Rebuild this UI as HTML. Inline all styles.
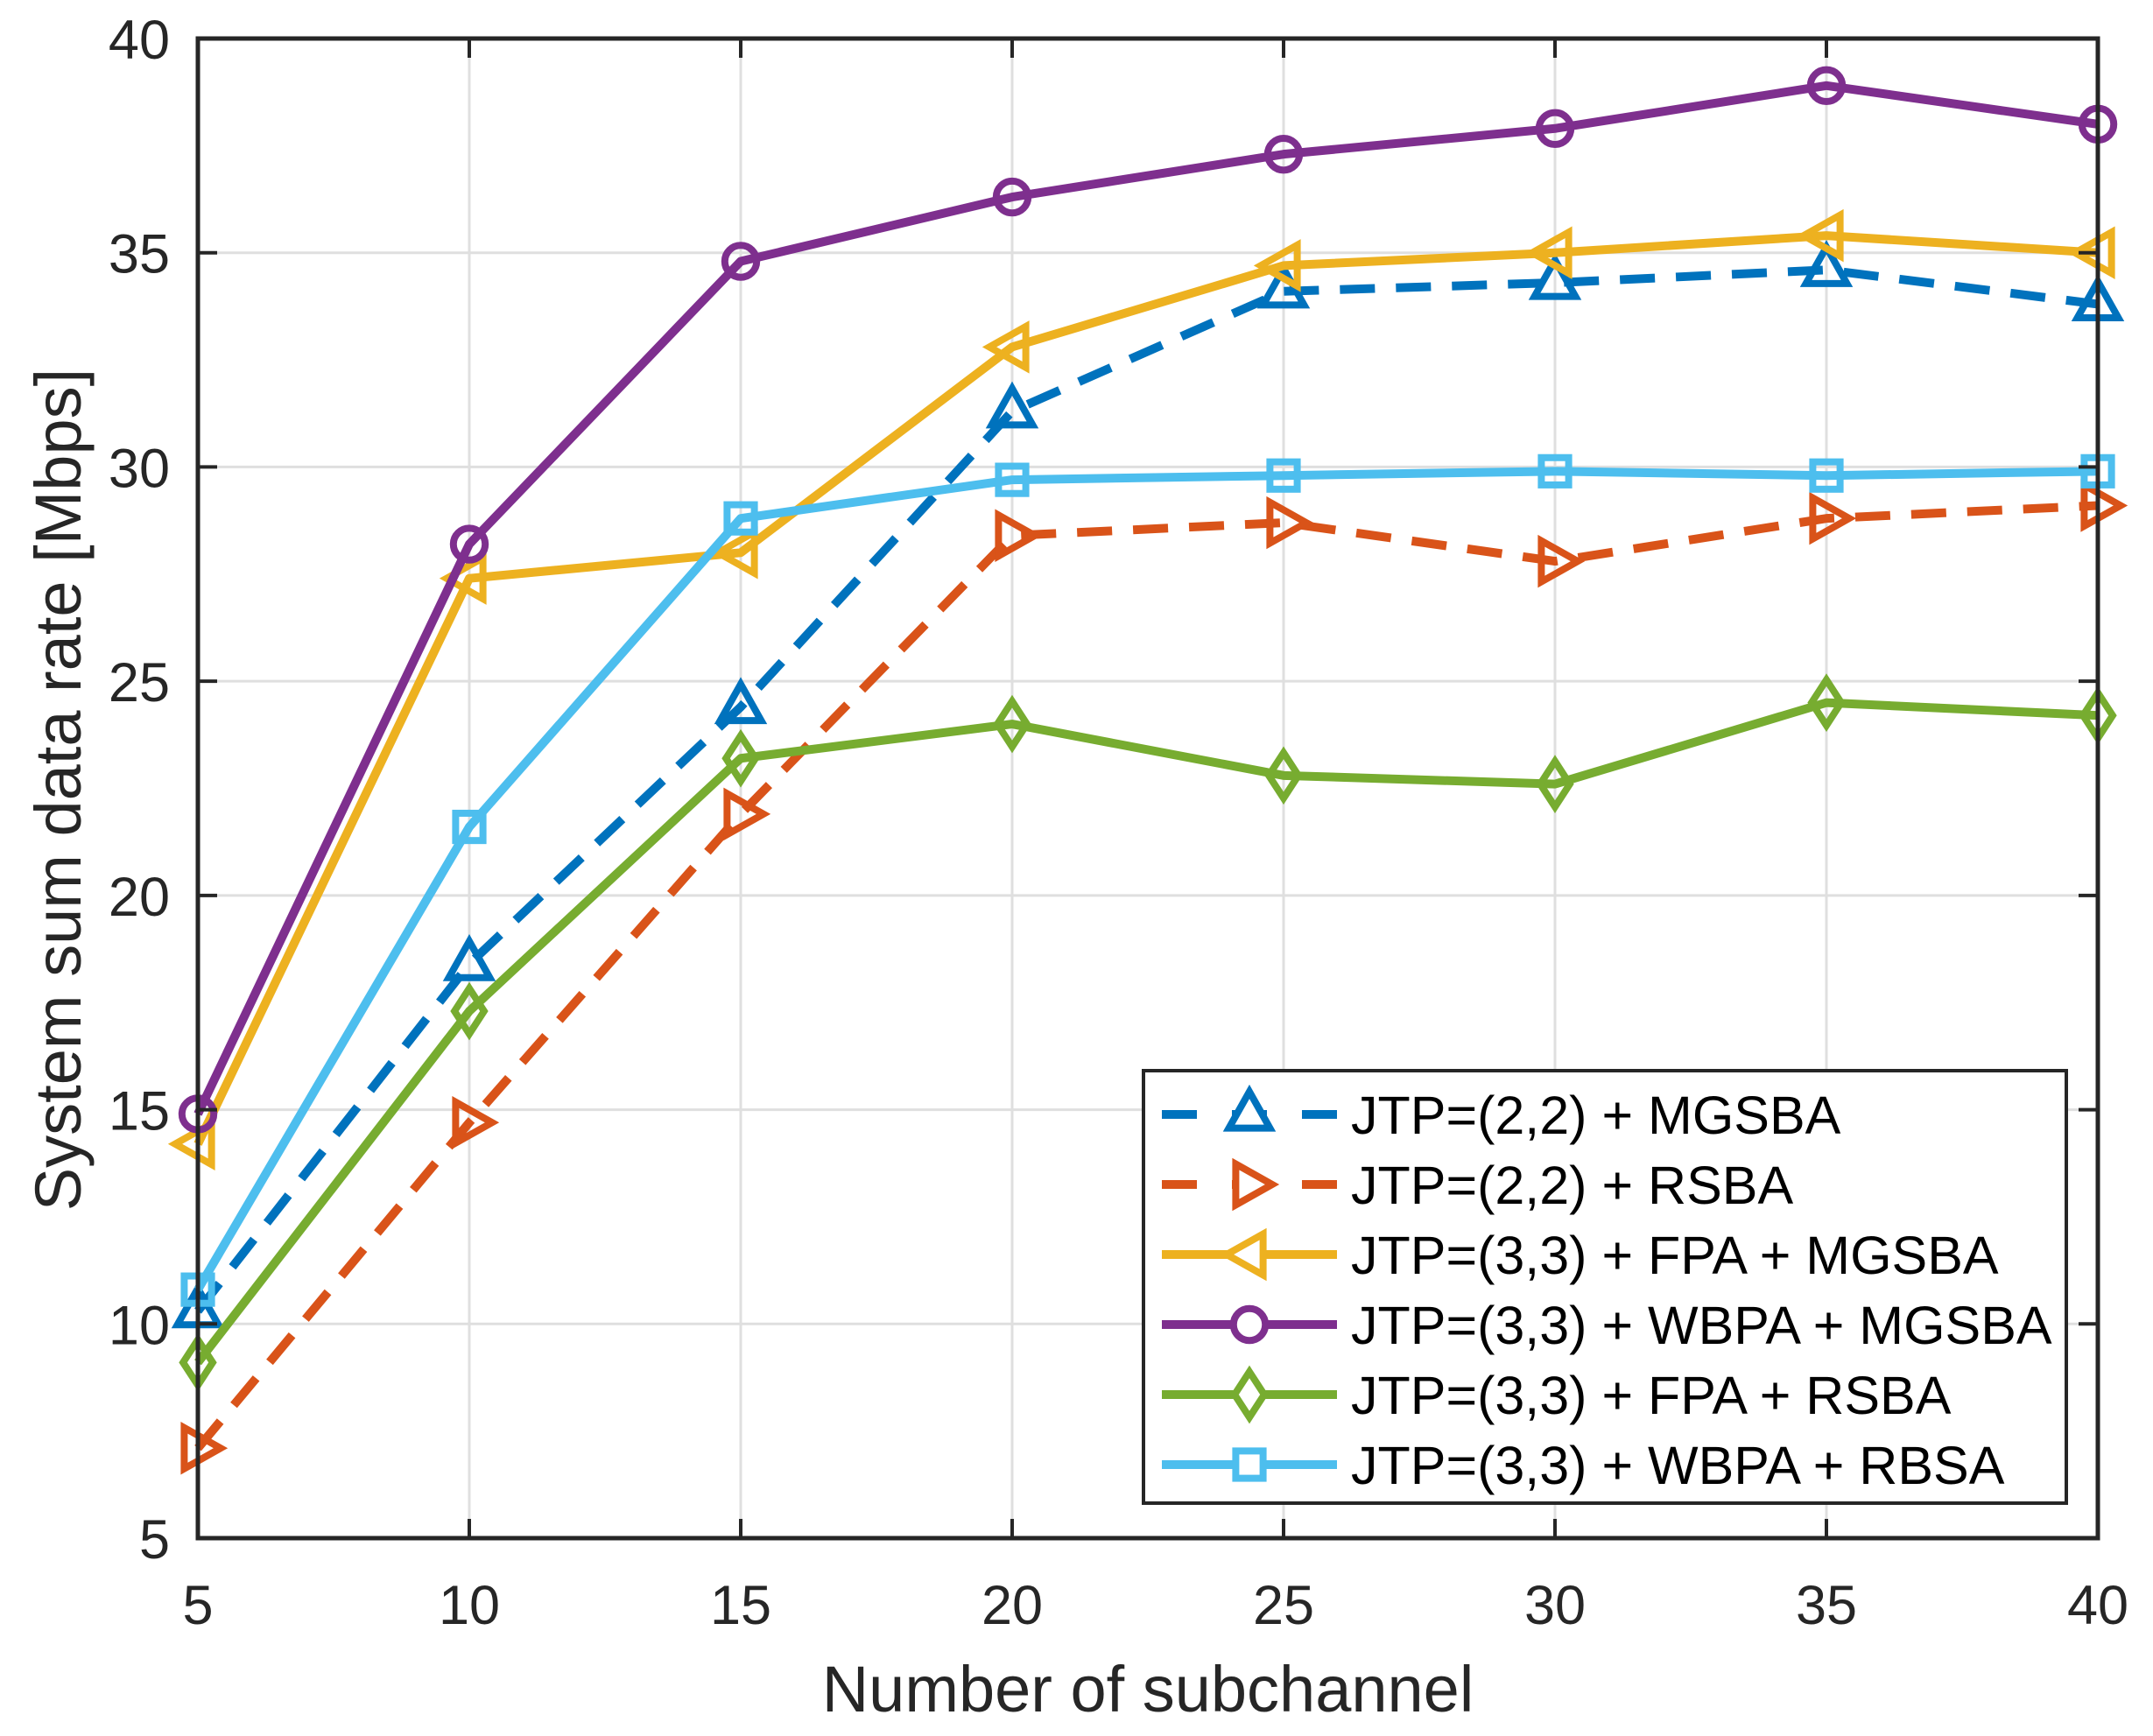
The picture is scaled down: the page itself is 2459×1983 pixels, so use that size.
<!DOCTYPE html>
<html><head><meta charset="utf-8"><style>
html,body{margin:0;padding:0;background:#fff;}
svg{display:block;font-family:"Liberation Sans",sans-serif;}
</style></head><body>
<svg id="chart" width="2459" height="1983" viewBox="0 0 2459 1983" xmlns="http://www.w3.org/2000/svg">
<rect x="0" y="0" width="2459" height="1983" fill="#fff"/>
<g id="grid"></g>
<g id="series"></g>
<g id="axes"></g>
<text x="0" y="0" transform="translate(92,902) rotate(-90)" text-anchor="middle" font-size="74" fill="#262626">System sum data rate [Mbps]</text>
<text x="1311" y="1955" text-anchor="middle" font-size="74" fill="#262626">Number of subchannel</text>
<g id="legend"></g>
</svg>
<script>
const categories = [5,10,15,20,25,30,35,40];
const xTicks = [5,10,15,20,25,30,35,40];
const yTicks = [5,10,15,20,25,30,35,40];
const seriesNames = ["JTP=(2,2) + MGSBA","JTP=(2,2) + RSBA","JTP=(3,3) + FPA + MGSBA","JTP=(3,3) + WBPA + MGSBA","JTP=(3,3) + FPA + RSBA","JTP=(3,3) + WBPA + RBSA"];
const mgsba22 = [10.3,18.4,24.4,31.3,34.1,34.3,34.6,33.8];
const rsba22 = [7.1,14.7,21.9,28.4,28.7,27.8,28.8,29.1];
const fpaMgsba33 = [14.2,27.4,28.0,32.8,34.7,35.0,35.4,35.0];
const wbpaMgsba33 = [14.9,28.2,34.8,36.3,37.3,37.9,38.9,38.0];
const fpaRsba33 = [9.1,17.3,23.2,24.0,22.8,22.6,24.5,24.2];
const wbpaRbsa33 = [10.8,21.6,28.8,29.7,29.8,29.9,29.8,29.9];

const NS="http://www.w3.org/2000/svg";
const L=226,R=2396,T=44,B=1757;
const xs=v=>L+(v-5)/(40-5)*(R-L);
const ys=v=>B-(v-5)/(40-5)*(B-T);
function mk(tag,attrs,parent){const e=document.createElementNS(NS,tag);for(const k in attrs)e.setAttribute(k,attrs[k]);parent.appendChild(e);return e;}
const grid=document.getElementById('grid'),axes=document.getElementById('axes'),ser=document.getElementById('series'),leg=document.getElementById('legend');
xTicks.forEach(v=>{
  const g=mk('line',{x1:xs(v),x2:xs(v),y1:T,y2:B,stroke:'#dfdfdf','stroke-width':3},grid);
  
  
  const t=mk('text',{x:xs(v),y:1855,'text-anchor':'middle','font-size':63,fill:'#262626'},axes);
  t.textContent=v;
  
  
  mk('line',{x1:xs(v),x2:xs(v),y1:B,y2:B-22,stroke:'#262626','stroke-width':4},axes);
  mk('line',{x1:xs(v),x2:xs(v),y1:T,y2:T+22,stroke:'#262626','stroke-width':4},axes);
});
yTicks.forEach(v=>{
  const g=mk('line',{x1:L,x2:R,y1:ys(v),y2:ys(v),stroke:'#dfdfdf','stroke-width':3},grid);
  
  
  const t=mk('text',{x:194,y:ys(v)+23,'text-anchor':'end','font-size':63,fill:'#262626'},axes);
  t.textContent=v;
  
  
  mk('line',{x1:L,x2:L+22,y1:ys(v),y2:ys(v),stroke:'#262626','stroke-width':4},axes);
  mk('line',{x1:R,x2:R-22,y1:ys(v),y2:ys(v),stroke:'#262626','stroke-width':4},axes);
});
const frame=mk('rect',{x:L,y:T,width:R-L,height:B-T,fill:'none',stroke:'#262626','stroke-width':5},axes);



const S=26;
function marker(type,x,y,color,parent){
  const a={fill:'none',stroke:color,'stroke-width':8,'stroke-linejoin':'miter'};
  let e;
  if(type==='up'){a.points=`${x},${y-S} ${x-S*0.9},${y+S*0.6} ${x+S*0.9},${y+S*0.6}`;e=mk('polygon',a,parent);}
  else if(type==='right'){a.points=`${x+S},${y} ${x-S*0.6},${y-S*0.9} ${x-S*0.6},${y+S*0.9}`;e=mk('polygon',a,parent);}
  else if(type==='left'){a.points=`${x-S},${y} ${x+S*0.6},${y-S*0.9} ${x+S*0.6},${y+S*0.9}`;e=mk('polygon',a,parent);}
  else if(type==='circle'){a.cx=x;a.cy=y;a.r=S*0.7;e=mk('circle',a,parent);}
  else if(type==='diamond'){a.points=`${x},${y-S} ${x+S*0.65},${y} ${x},${y+S} ${x-S*0.65},${y}`;e=mk('polygon',a,parent);}
  else {a.x=x-S*0.6;a.y=y-S*0.6;a.width=S*1.2;a.height=S*1.2;e=mk('rect',a,parent);}
  return e;
}
const defs=[
 {data:mgsba22,color:'#0072BD',dash:true,m:'up',name:'series-jtp22-mgsba'},
 {data:rsba22,color:'#D95319',dash:true,m:'right',name:'series-jtp22-rsba'},
 {data:fpaMgsba33,color:'#EDB120',dash:false,m:'left',name:'series-jtp33-fpa-mgsba'},
 {data:wbpaMgsba33,color:'#7E2F8E',dash:false,m:'circle',name:'series-jtp33-wbpa-mgsba'},
 {data:fpaRsba33,color:'#77AC30',dash:false,m:'diamond',name:'series-jtp33-fpa-rsba'},
 {data:wbpaRbsa33,color:'#4DBEEE',dash:false,m:'square',name:'series-jtp33-wbpa-rbsa'}
];
defs.forEach(d=>{
  const g=mk('g',{},ser);
  
  
  const pts=d.data.map((v,i)=>xs(categories[i])+','+ys(v)).join(' ');
  const pl=mk('polyline',{points:pts,fill:'none',stroke:d.color,'stroke-width':10,'stroke-linejoin':'round'},g);
  if(d.dash)pl.setAttribute('stroke-dasharray','40 24');
  
  
  d.data.forEach((v,i)=>{
    const e=marker(d.m,xs(categories[i]),ys(v),d.color,g);
    
    
  });
});
// legend
const lb=mk('rect',{x:1306,y:1223,width:1054,height:494,fill:'#fff',stroke:'#262626','stroke-width':4},leg);


const rowY=[1273,1353,1433,1513,1593,1673];
defs.forEach((d,i)=>{
  const g=mk('g',{},leg);
  
  
  const y=rowY[i];
  const l=mk('line',{x1:1327,x2:1527,y1:y,y2:y,stroke:d.color,'stroke-width':10},g);
  if(d.dash)l.setAttribute('stroke-dasharray','40 40');
  const m=marker(d.m,1427,y,d.color,g);
  m.setAttribute('fill','#fff');
  const t=mk('text',{x:1543,y:y+22,'font-size':61,fill:'#000'},g);
  t.textContent=seriesNames[i];
});
</script>
</body></html>
